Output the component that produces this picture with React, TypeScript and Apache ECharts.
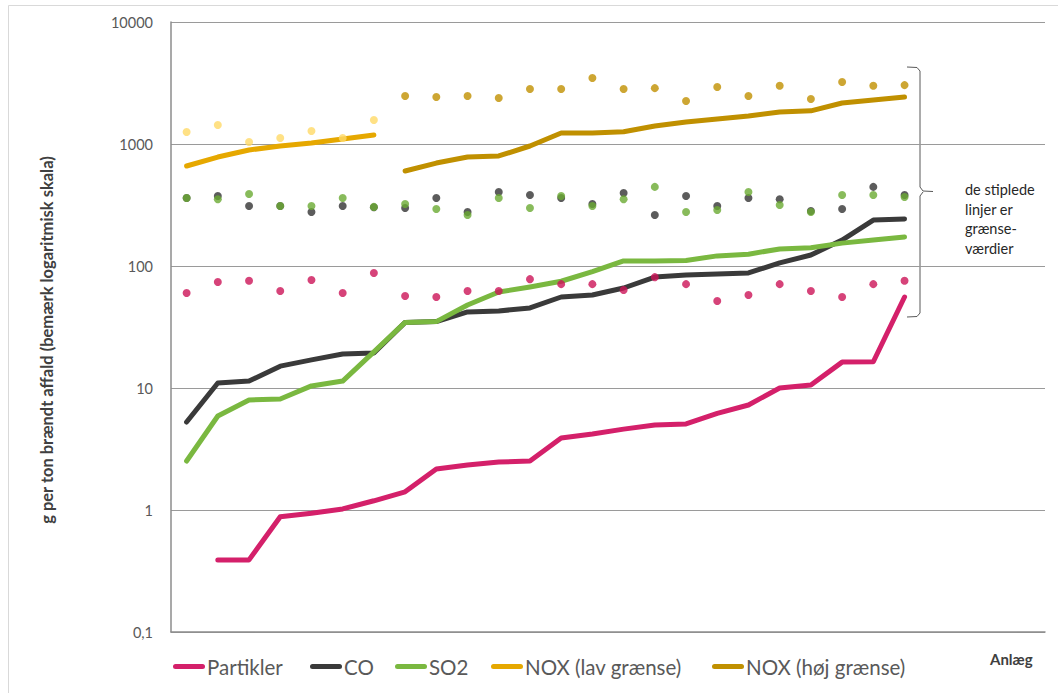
import React, { useEffect, useRef } from "react";
import * as echarts from "echarts";

const categories = ["1","2","3","4","5","6","7","8","9","10","11","12","13","14","15","16","17","18","19","20","21","22","23","24","25","26","27","28"];

const seriesNames = ["Partikler", "CO", "SO2", "NOX (lav grænse)", "NOX (høj grænse)"];

const partikler = [null, 0.39, 0.39, 0.88, 0.94, 1.02, 1.19, 1.41, 2.17, 2.34, 2.47, 2.52, 3.89, 4.2, 4.6, 4.97, 5.07, 6.2, 7.26, 10.0, 10.6, 16.3, 16.4, 55.7];
const co = [5.26, 11.0, 11.4, 15.1, 17.0, 19.0, 19.4, 34.5, 35, 42, 42.8, 45.3, 55.7, 57.8, 66, 81.2, 84.4, 86, 87.7, 106, 123, 163, 238, 243];
const so2 = [2.52, 5.89, 7.97, 8.13, 10.4, 11.4, 19.8, 34.5, 35, 47.9, 61.2, 67.3, 75, 90, 110, 110, 111, 121, 125, 138, 141, 154, 163, 173];
const noxLav = [660, 782, 893, 963, 1019, 1099, 1186];
const noxHoj = [null, null, null, null, null, null, null, 601, 698, 782, 798, 963, 1230, 1230, 1260, 1406, 1514, 1603, 1698, 1830, 1870, 2168, 2296, 2427];

const partiklerGr = [60.1, 74, 75.6, 62.4, 76.8, 60.1, 87.7, 56.8, 55.7, 62.4, 62.4, 78, 71, 71, 63.6, 81, 71, 51.6, 57.8, 71, 62.4, 55.7, 71, 75.6];
const coGr = [361, 375, 310, 310, 277, 310, 303, 299, 361, 277, 404, 382, 361, 322, 396, 262, 375, 310, 361, 353, 282, 293, 445, 382];
const so2Gr = [361, 353, 389, 310, 310, 361, 305, 322, 293, 262, 361, 299, 375, 310, 353, 445, 277, 288, 404, 316, 277, 382, 382, 368];
const noxLavGr = [1254, 1431, 1038, 1119, 1279, 1119, 1573];
const noxHojGr = [null, null, null, null, null, null, null, 2473, 2427, 2473, 2382, 2825, 2825, 3475, 2825, 2870, 2250, 2930, 2473, 3000, 2338, 3222, 3000, 3040];

const yTicks = [0.1, 1, 10, 100, 1000, 10000];
const yTickLabels = ["0,1", "1", "10", "100", "1000", "10000"];

const yTitle = "g per ton brændt affald (bemærk logaritmisk skala)";
const xTitle = "Anlæg";
const note = "de stiplede\nlinjer er\ngrænse-\nværdier";

const COLORS = {
  partikler: "#D4206A",
  co: "#3A3A3A",
  so2: "#7AB840",
  noxLav: "#E6A800",
  noxLavDot: "#FFD966",
  noxHoj: "#C09000",
  partDot: "#CC1458",
  coDot: "#333333",
  so2Dot: "#6AAA32",
};

const FONT = "Lato, 'Open Sans', sans-serif";

function pad(arr: (number | null)[]) {
  const out: (number | null)[] = [];
  for (let i = 0; i < categories.length; i++) out.push(i < arr.length ? arr[i] : null);
  return out;
}

const legendIcon = "path://M2.5,0 H29.5 A2.5,2.5 0 0 1 29.5,5 H2.5 A2.5,2.5 0 0 1 2.5,0 Z";

export default function App() {
  const ref = useRef<HTMLDivElement>(null);
  useEffect(() => {
    if (!ref.current) return;
    const chart = echarts.init(ref.current, undefined, { renderer: "svg" });

    const lineSeries = (name: string, data: (number | null)[], color: string) => ({
      name,
      type: "line",
      data: pad(data),
      showSymbol: false,
      symbol: "none",
      connectNulls: false,
      lineStyle: { color, width: 5, cap: "round", join: "round" },
      itemStyle: { color },
      z: 2,
    });
    const dotSeries = (name: string, data: (number | null)[], color: string, z: number) => ({
      name,
      type: "scatter",
      data: pad(data),
      symbol: "circle",
      symbolSize: 8,
      itemStyle: { color },
      z,
    });

    const legendLefts = [173, 310, 395, 491, 712];
    const legends = seriesNames.map((n, i) => ({
      data: [n],
      left: legendLefts[i],
      top: 656,
      icon: legendIcon,
      itemWidth: 32,
      itemHeight: 5,
      itemGap: 0,
      padding: 0,
      selectedMode: false,
      textStyle: { fontFamily: FONT, fontSize: 20.5, color: "#595959", padding: [0, 0, 0, -3] },
    }));

    chart.setOption({
      animation: false,
      backgroundColor: "#ffffff",
      grid: { left: 171, right: 13, top: 22, bottom: 61, containLabel: false },
      legend: legends,
      xAxis: {
        type: "category",
        data: categories,
        boundaryGap: true,
        axisLine: { show: true, lineStyle: { color: "#8c8c8c", width: 1.5 } },
        axisTick: { show: false },
        axisLabel: { show: false },
        splitLine: { show: false },
      },
      yAxis: {
        type: "log",
        logBase: 10,
        min: yTicks[0],
        max: yTicks[yTicks.length - 1],
        axisLine: { show: true, lineStyle: { color: "#8c8c8c", width: 1.5 } },
        axisTick: { show: false },
        splitLine: { show: true, lineStyle: { color: "#9a9a9a", width: 1 } },
        axisLabel: {
          fontFamily: FONT,
          fontSize: 14.5,
          color: "#595959",
          margin: 18,
          formatter: (v: number) => {
            let best = 0;
            for (let i = 0; i < yTicks.length; i++) {
              if (Math.abs(Math.log10(v) - Math.log10(yTicks[i])) < Math.abs(Math.log10(v) - Math.log10(yTicks[best]))) best = i;
            }
            return yTickLabels[best];
          },
        },
      },
      series: [
        lineSeries(seriesNames[0], partikler, COLORS.partikler),
        lineSeries(seriesNames[1], co, COLORS.co),
        lineSeries(seriesNames[2], so2, COLORS.so2),
        lineSeries(seriesNames[3], noxLav, COLORS.noxLav),
        lineSeries(seriesNames[4], noxHoj, COLORS.noxHoj),
        dotSeries("NOX lav grænseværdi", noxLavGr, COLORS.noxLavDot, 3),
        dotSeries("NOX høj grænseværdi", noxHojGr, COLORS.noxHoj, 3),
        dotSeries("CO grænseværdi", coGr, COLORS.coDot, 4),
        dotSeries("SO2 grænseværdi", so2Gr, COLORS.so2Dot, 5),
        dotSeries("Partikler grænseværdi", partiklerGr, COLORS.partDot, 6),
      ],
      graphic: [
        {
          type: "rect",
          shape: { x: 8.5, y: 5.5, width: 1100, height: 800 },
          style: { fill: "none", stroke: "#d9d9d9", lineWidth: 1 },
          silent: true,
          z: -10,
        },
        {
          type: "text",
          x: 47,
          y: 340,
          rotation: Math.PI / 2,
          style: {
            text: yTitle,
            fontFamily: FONT,
            fontSize: 16.5,
            fontWeight: "bold",
            fill: "#404040",
            align: "center",
            verticalAlign: "middle",
          },
        },
        {
          type: "text",
          x: 990,
          y: 659,
          style: {
            text: xTitle,
            fontFamily: FONT,
            fontSize: 15,
            fontWeight: "bold",
            fill: "#404040",
            align: "left",
            verticalAlign: "middle",
          },
        },
        {
          type: "text",
          x: 965,
          y: 180,
          style: {
            text: note,
            fontFamily: FONT,
            fontSize: 14.5,
            lineHeight: 19.5,
            fill: "#262626",
            align: "left",
            verticalAlign: "top",
          },
        },
        {
          type: "polyline",
          shape: { points: [[907, 67], [917, 67.5], [920, 71], [920, 187], [923, 191], [933, 191.5]] },
          style: { stroke: "#595959", lineWidth: 1, fill: "none" },
          silent: true,
        },
        {
          type: "polyline",
          shape: { points: [[923, 192], [920, 196], [920, 313], [917, 316.5], [907, 317]] },
          style: { stroke: "#595959", lineWidth: 1, fill: "none" },
          silent: true,
        },
      ],
    });
    return () => chart.dispose();
  }, []);
  return <div ref={ref} style={{ position: "fixed", left: 0, top: 0, width: 1058, height: 693 }} />;
}
